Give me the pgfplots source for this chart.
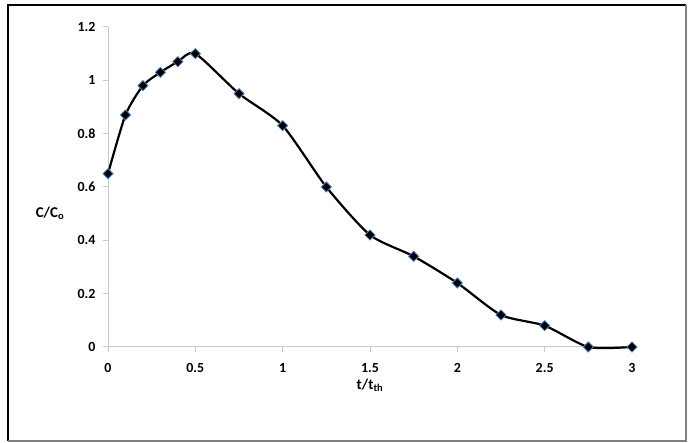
\documentclass[border=0pt]{standalone}
\usepackage{pgfplots}
\pgfplotsset{compat=1.18}
\usepackage{fontspec}
\setmainfont{Carlito}
\definecolor{axgray}{RGB}{200,200,200}
\definecolor{mkblue}{RGB}{79,129,189}
\begin{document}
\begin{tikzpicture}[x=1bp,y=1bp]
\useasboundingbox (0,0) rectangle (693,443);
\fill[white] (0,0) rectangle (693,443);
\draw[line width=2.5bp,black] (8,2) -- (8,438) -- (686,438);
\draw[line width=2bp,gray] (686,438) -- (686,2) -- (8,2);
\begin{axis}[
  at={(108bp,96bp)}, anchor=origin,
  scale only axis, width=524bp, height=320bp,
  xmin=0, xmax=3, ymin=0, ymax=1.2,
  axis x line*=bottom, axis y line*=left,
  axis line style={axgray, line width=1bp, -},
  xtick={0,0.5,1,1.5,2,2.5,3},
  ytick={0,0.2,0.4,0.6,0.8,1,1.2},
  xticklabels={0,0.5,1,1.5,2,2.5,3},
  yticklabels={0,0.2,0.4,0.6,0.8,1,1.2},
  tick style={axgray, line width=1bp},
  tick align=outside, major tick length=5bp,
  ticklabel style={font=\fontsize{14}{16}\selectfont\bfseries},
  xticklabel style={yshift=-8bp},
  yticklabel style={xshift=-4bp},
  clip=false,
]
\addplot[black, line width=2.2bp, smooth, tension=0.4,
  mark=square*, mark size=3.6bp,
  mark options={fill=black, draw=mkblue, line width=0.8bp, rotate=45}]
  coordinates {
  (0,0.65) (0.1,0.87) (0.2,0.98) (0.3,1.03) (0.4,1.07) (0.5,1.1)
  (0.75,0.95) (1,0.83) (1.25,0.6) (1.5,0.42) (1.75,0.34) (2,0.24)
  (2.25,0.12) (2.5,0.08) (2.75,0) (3,0)};
\end{axis}
\node[font=\fontsize{15}{18}\selectfont\bfseries] at (50,230) {C/C\textsubscript{o}};
\node[font=\fontsize{15}{18}\selectfont\bfseries] at (370,58) {t/t\textsubscript{th}};
\end{tikzpicture}
\end{document}
